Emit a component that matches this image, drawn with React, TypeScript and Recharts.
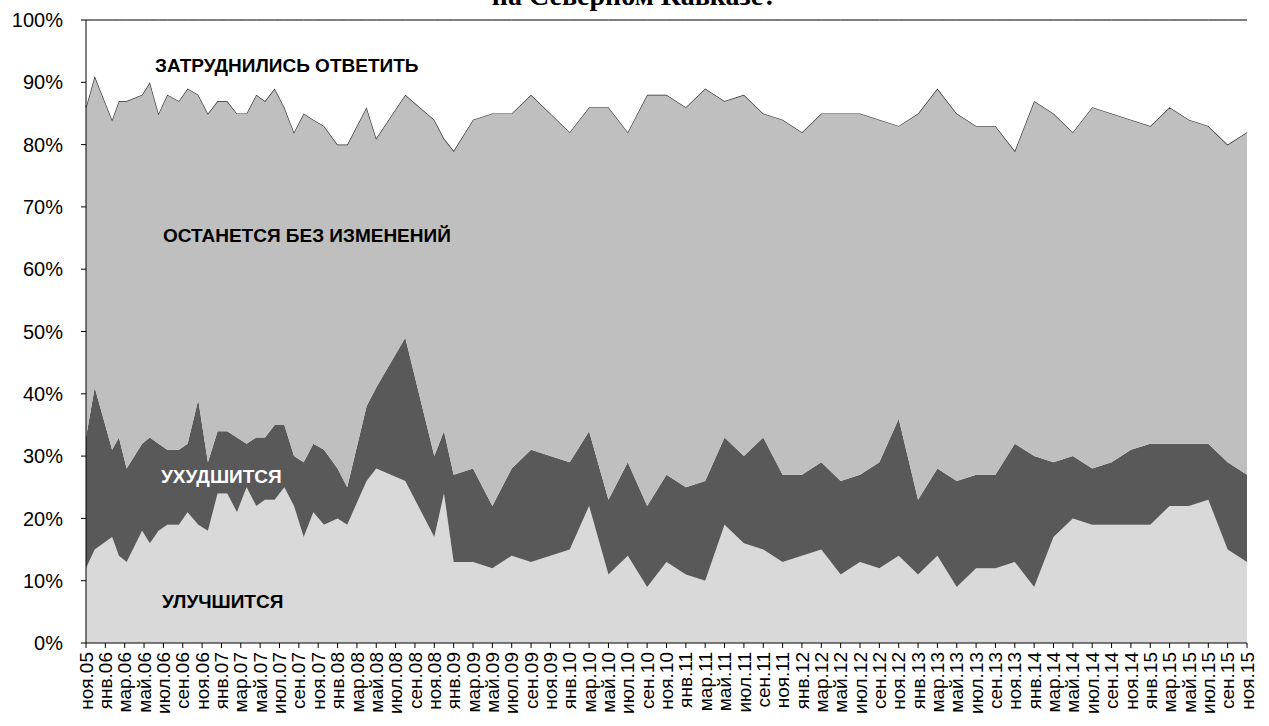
import { AreaChart, Area, XAxis, YAxis } from 'recharts'

// survey position, months after Nov 2005 (early waves were monthly, later every two months)
const surveyMonth = [
  0, 0.9, 2.7, 3.4, 4.2, 5.8, 6.6, 7.5, 8.4, 9.6, 10.5, 11.6, 12.6, 13.6, 14.6, 15.6, 16.6, 17.6,
  18.5, 19.5, 20.5, 21.5, 22.5, 23.5, 24.6, 26, 27, 29, 30, 33, 36, 37, 38, 40, 42, 44, 46, 50, 52,
  54, 56, 58, 60, 62, 64, 66, 68, 70, 72, 74, 76, 78, 80, 82, 84, 86, 88, 90, 92, 94, 96, 98, 100,
  102, 104, 106, 108, 110, 112, 114, 116, 118, 120,
]

const better = [
  12, 15, 17, 14, 13, 18, 16, 18, 19, 19, 21, 19, 18, 24, 24, 21, 25, 22, 23, 23, 25, 22, 17, 21, 19,
  20, 19, 26, 28, 26, 17, 24, 13, 13, 12, 14, 13, 15, 22, 11, 14, 9, 13, 11, 10, 19, 16, 15, 13, 14,
  15, 11, 13, 12, 14, 11, 14, 9, 12, 12, 13, 9, 17, 20, 19, 19, 19, 19, 22, 22, 23, 15, 13,
]
const worse = [
  21, 26, 14, 19, 15, 14, 17, 14, 12, 12, 11, 20, 11, 10, 10, 12, 7, 11, 10, 12, 10, 8, 12, 11, 12,
  8, 6, 12, 13, 23, 13, 10, 14, 15, 10, 14, 18, 14, 12, 12, 15, 13, 14, 14, 16, 14, 14, 18, 14, 13,
  14, 15, 14, 17, 22, 12, 14, 17, 15, 15, 19, 21, 12, 10, 9, 10, 12, 13, 10, 10, 9, 14, 14,
]
const same = [
  53, 50, 53, 54, 59, 56, 57, 53, 57, 56, 57, 49, 56, 53, 53, 52, 53, 55, 54, 54, 51, 52, 56, 52, 52,
  52, 55, 48, 40, 39, 54, 47, 52, 56, 63, 57, 57, 53, 52, 63, 53, 66, 61, 61, 63, 54, 58, 52, 57, 55,
  56, 59, 58, 55, 47, 62, 61, 59, 56, 56, 47, 57, 56, 52, 58, 56, 53, 51, 54, 52, 51, 51, 55,
]
const hard = [
  14, 9, 16, 13, 13, 12, 10, 15, 12, 13, 11, 12, 15, 13, 13, 15, 15, 12, 13, 11, 14, 18, 15, 16, 17,
  20, 20, 14, 19, 12, 16, 19, 21, 16, 15, 15, 12, 18, 14, 14, 18, 12, 12, 14, 11, 13, 12, 15, 16, 18,
  15, 15, 15, 16, 17, 15, 11, 15, 17, 17, 21, 13, 15, 18, 14, 15, 16, 17, 14, 16, 17, 20, 18,
]

const monthNames = ['янв', 'фев', 'мар', 'апр', 'май', 'июн', 'июл', 'авг', 'сен', 'окт', 'ноя', 'дек']
const xTicks = Array.from({ length: 61 }, (_, i) => i * 2)
const yTicks = [0, 10, 20, 30, 40, 50, 60, 70, 80, 90, 100]

const data = surveyMonth.map((m, i) => ({
  m,
  better: better[i],
  worse: worse[i],
  same: same[i],
  hard: hard[i],
}))

const font = 'Arial, "Liberation Sans", sans-serif'

function monthLabel(v: number) {
  const total = 10 + v
  const yy = 5 + Math.floor(total / 12)
  return `${monthNames[total % 12]}.${String(yy).padStart(2, '0')}`
}

function MonthTick({ x, y, payload }: any) {
  return (
    <text
      x={x}
      y={y}
      transform={`rotate(-90 ${x} ${y})`}
      textAnchor="end"
      dy="0.35em"
      fontSize={19}
      fontFamily={font}
      fill="#000"
    >
      {monthLabel(payload.value)}
    </text>
  )
}

export default function App() {
  return (
    <div
      style={{
        position: 'fixed',
        left: 0,
        top: 0,
        width: 1269,
        height: 726,
        background: '#fff',
        overflow: 'hidden',
        fontFamily: font,
      }}
    >
      <div
        style={{
          position: 'absolute',
          left: 0,
          width: 1269,
          top: -20,
          textAlign: 'center',
          fontFamily: '"Times New Roman", "Liberation Serif", serif',
          fontWeight: 'bold',
          fontSize: 28,
          lineHeight: '32px',
        }}
      >
        на Северном Кавказе?
      </div>
      <AreaChart
        width={1269}
        height={726}
        data={data}
        margin={{ top: 20, right: 22, left: 16, bottom: 0 }}
      >
        <XAxis
          dataKey="m"
          type="number"
          domain={[0, 120]}
          ticks={xTicks}
          interval={0}
          height={83}
          tickSize={5}
          tickMargin={4}
          tick={<MonthTick />}
          axisLine={{ stroke: '#000' }}
          tickLine={{ stroke: '#000' }}
        />
        <YAxis
          type="number"
          domain={[0, 100]}
          ticks={yTicks}
          width={70}
          tickSize={5}
          tickMargin={18}
          tickFormatter={(v) => `${v}%`}
          tick={{ fill: '#000', fontSize: 20, fontFamily: font }}
          axisLine={{ stroke: '#000' }}
          tickLine={{ stroke: '#000' }}
        />
        <Area type="linear" dataKey="better" stackId="1" fill="#d9d9d9" fillOpacity={1} stroke="none" isAnimationActive={false} />
        <Area type="linear" dataKey="worse" stackId="1" fill="#595959" fillOpacity={1} stroke="none" isAnimationActive={false} />
        <Area type="linear" dataKey="same" stackId="1" fill="#bfbfbf" fillOpacity={1} stroke="#333" strokeWidth={1.3} isAnimationActive={false} />
        <Area type="linear" dataKey="hard" stackId="1" fill="#fff" fillOpacity={1} stroke="#000" strokeWidth={1} isAnimationActive={false} />
      </AreaChart>
      <svg
        width={1269}
        height={726}
        style={{ position: 'absolute', left: 0, top: 0, pointerEvents: 'none' }}
        fontFamily={font}
        fontWeight="bold"
        fontSize={19}
      >
        <text x={155} y={72} fill="#000">ЗАТРУДНИЛИСЬ ОТВЕТИТЬ</text>
        <text x={163} y={242} fill="#000">ОСТАНЕТСЯ БЕЗ ИЗМЕНЕНИЙ</text>
        <text x={161} y={483} fill="#fff">УХУДШИТСЯ</text>
        <text x={162} y={608} fill="#000">УЛУЧШИТСЯ</text>
      </svg>
    </div>
  )
}
